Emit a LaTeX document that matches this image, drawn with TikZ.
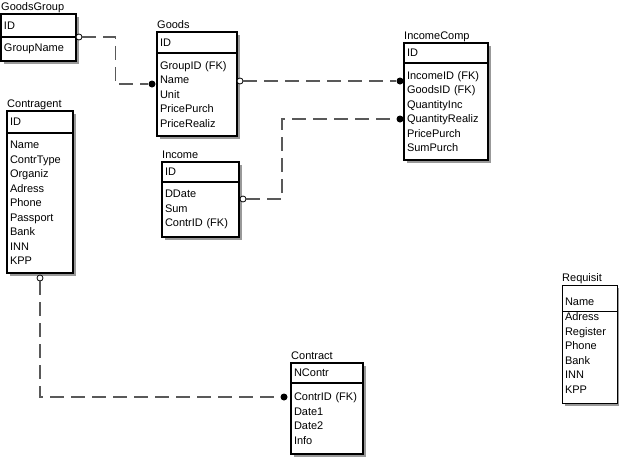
\documentclass[tikz,border=0pt]{standalone}
\usepackage{fontspec}
\setmainfont{Liberation Sans}
\usepackage{tikz}
\usetikzlibrary{positioning,calc,shadows}

\newcommand{\erfont}{\fontsize{11}{14.5}\selectfont}

\tikzset{
  ent/.style={draw, line width=1.3pt, fill=white, inner xsep=3pt, inner ysep=0pt, outer sep=0pt,
    align=left, font=\erfont,
    drop shadow={shadow xshift=3pt, shadow yshift=-3pt, fill=gray!80, opacity=1}},
  keyrow/.style={ent, anchor=north west},
  attrow/.style={ent, anchor=north},
  ttl/.style={anchor=south west, inner xsep=0pt, inner ysep=1pt, text depth=2.5pt, font=\erfont},
  rel/.style={line width=1.4pt, black!65, dash pattern=on 14pt off 7pt},
  onec/.style={circle, draw, line width=0.8pt, fill=white, inner sep=0pt, minimum size=6pt},
  dotc/.style={circle, fill=black, inner sep=0pt, minimum size=7pt}
}

\begin{document}
\begin{tikzpicture}[x=1pt,y=-1pt]
        \useasboundingbox (0,0) rectangle (619,458);

        % Top row tables
        \node[keyrow, text width=69pt, minimum height=23pt, label={[ttl]north west:GoodsGroup}] (ggKey) at (1,14) {ID};
        \node[attrow, text width=69pt, minimum height=24pt, below=0pt of ggKey] (ggAttr) {GroupName};

        \node[keyrow, text width=74pt, minimum height=21pt, label={[ttl]north west:Goods}] (goodsKey) at (157,32) {ID};
        \node[attrow, text width=74pt, minimum height=83pt, below=0pt of goodsKey] (goodsAttr) {GroupID (FK)\\Name\\Unit\\PricePurch\\PriceRealiz};

        \node[keyrow, text width=78pt, minimum height=20pt, label={[ttl]north west:IncomeComp}] (icKey) at (404,43) {ID};
        \node[attrow, text width=78pt, minimum height=97pt, below=0pt of icKey] (icAttr) {IncomeID (FK)\\GoodsID (FK)\\QuantityInc\\QuantityRealiz\\PricePurch\\SumPurch};

        % Middle tables
        \node[keyrow, text width=60pt, minimum height=22pt, label={[ttl]north west:Contragent}] (ctrKey) at (7,111) {ID};
        \node[attrow, text width=60pt, minimum height=140pt, below=0pt of ctrKey] (ctrAttr) {Name\\ContrType\\Organiz\\Adress\\Phone\\Passport\\Bank\\INN\\KPP};

        \node[keyrow, text width=71pt, minimum height=20pt, label={[ttl]north west:Income}] (incKey) at (162,162) {ID};
        \node[attrow, text width=71pt, minimum height=55pt, below=0pt of incKey] (incAttr) {DDate\\Sum\\ContrID (FK)};

        % Bottom tables
        \node[keyrow, text width=66pt, minimum height=20pt, label={[ttl]north west:Contract}] (conKey) at (291,363) {NContr};
        \node[attrow, text width=66pt, minimum height=71pt, below=0pt of conKey] (conAttr) {ContrID (FK)\\Date1\\Date2\\Info};

        \node[keyrow, line width=0.8pt, text width=49pt, minimum height=26pt, label={[ttl]north west:Requisit}] (reqKey) at (562,285) {\raisebox{-4pt}[\height][\depth]{Name}};
        \node[attrow, line width=0.8pt, text width=49pt, minimum height=92pt, below=0pt of reqKey] (reqAttr) {\raisebox{3pt}[\height][\depth]{\begin{tabular}{@{}l@{}}Adress\\Register\\Phone\\Bank\\INN\\KPP\end{tabular}}};

        % Relationship ends
        \node[onec] (ggOne) at ([xshift=3pt]ggAttr.north east) {};
        \node[dotc] (goodsMany) at ([xshift=-5pt,yshift=10.5pt]goodsAttr.west) {};
        \node[onec] (goodsOne) at ([xshift=3pt,yshift=13.5pt]goodsAttr.east) {};
        \node[dotc] (icMany1) at ([xshift=-4pt,yshift=30.5pt]icAttr.west) {};
        \node[onec] (incOne) at ([xshift=4pt,yshift=10.5pt]incAttr.east) {};
        \node[dotc] (icMany2) at ([xshift=-4pt,yshift=-7.5pt]icAttr.west) {};
        \node[onec] (ctrOne) at ([yshift=-5pt]ctrAttr.south) {};
        \node[dotc] (conMany) at ([xshift=-7pt,yshift=21.5pt]conAttr.west) {};

        % Relationship lines
        \draw[rel] (ggOne) -| ($(ggOne)!.5!(goodsMany)$) |- (goodsMany);
        \draw[rel] (goodsOne) -- (icMany1);
        \draw[rel] (incOne) -- ++(39,0) |- (icMany2);
        \draw[rel] (ctrOne) |- (conMany);

    \end{tikzpicture}
\end{document}
